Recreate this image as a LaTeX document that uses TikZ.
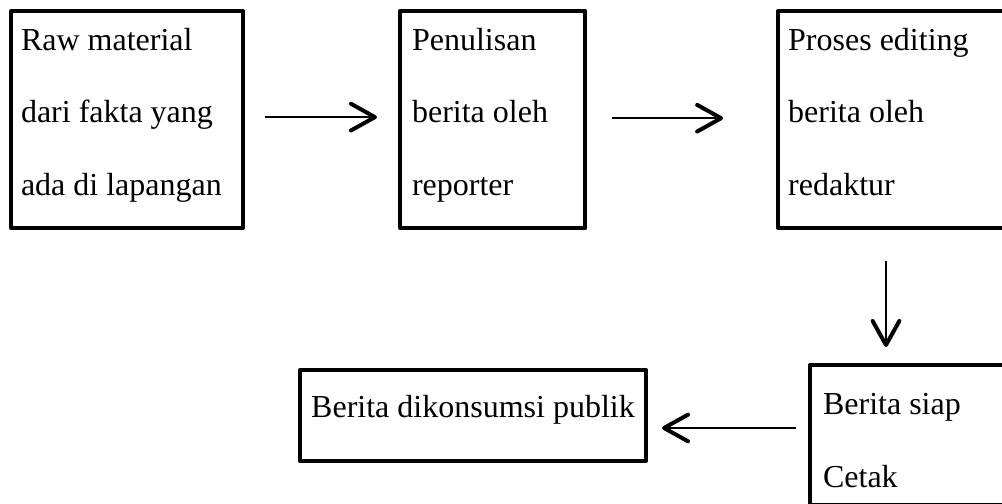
\documentclass[tikz,border=0pt]{standalone}
\usepackage{fontspec}
\setmainfont{Liberation Serif}
\usetikzlibrary{arrows.meta, positioning}

\begin{document}
\begin{tikzpicture}[x=0.375pt, y=-0.375pt,
    font=\fontsize{12pt}{27.3pt}\selectfont,
    box/.style={rectangle, draw=black, line width=1.5pt, line join=round,
      align=flush left, inner xsep=3.75pt, inner ysep=0pt},
    textpad/.style 2 args={execute at begin node={\rule{0pt}{#1}},
      execute at end node={\rule[-#2]{0pt}{0pt}}},
    conn/.style={-{Straight Barb[length=9pt, width=10pt, line width=1.5pt, round]},
      line width=0.75pt}]

    \useasboundingbox (0,0) rectangle (1002,504);
    \clip (0,0) rectangle (1002,504);

    % top row
    \node (raw) [box, textpad={10pt}{7.5pt}, anchor=north west, text width=79.5pt,
      minimum width=87pt, minimum height=81.4pt] at (9,9)
      {Raw material\\dari fakta yang\\ada di lapangan};
    \node (tulis) [box, textpad={10pt}{7.5pt}, right=57.4pt of raw, inner xsep=4.5pt,
      text width=60.4pt, minimum width=69.4pt, minimum height=81.4pt]
      {Penulisan\\berita oleh\\reporter};
    \node (edit) [box, textpad={10pt}{7.5pt}, right=70.9pt of tulis, text width=80.25pt,
      minimum width=87.75pt, minimum height=81.4pt]
      {Proses editing\\berita oleh\\redaktur};

    % bottom row
    \node (cetak) [box, textpad={18pt}{5.7pt}, anchor=north west, inner xsep=4.9pt,
      text width=65.95pt, minimum width=75.75pt, minimum height=52.5pt] at (808,363)
      {Berita siap\\Cetak};
    \node (publik) [box, anchor=north west, minimum width=129.75pt, minimum height=34.1pt,
      text height=8.2pt, text depth=6.3pt] at (298,368)
      {Berita dikonsumsi publik};

    % connections
    \draw[conn, shorten <=7.5pt, shorten >=7.9pt]
      ([yshift=0.9pt]raw.east) -- ([yshift=0.9pt]tulis.west);
    \draw[conn, shorten <=9.4pt, shorten >=19.9pt]
      ([yshift=0.5pt]tulis.east) -- ([yshift=0.5pt]edit.west);
    \draw[conn, shorten <=11.6pt, shorten >=6pt]
      (edit.south -| 886,0) -- (cetak.north -| 886,0);
    \draw[conn, shorten <=4.5pt, shorten >=5.25pt]
      (cetak.west |- 0,428) -- (publik.east |- 0,428);
\end{tikzpicture}
\end{document}
